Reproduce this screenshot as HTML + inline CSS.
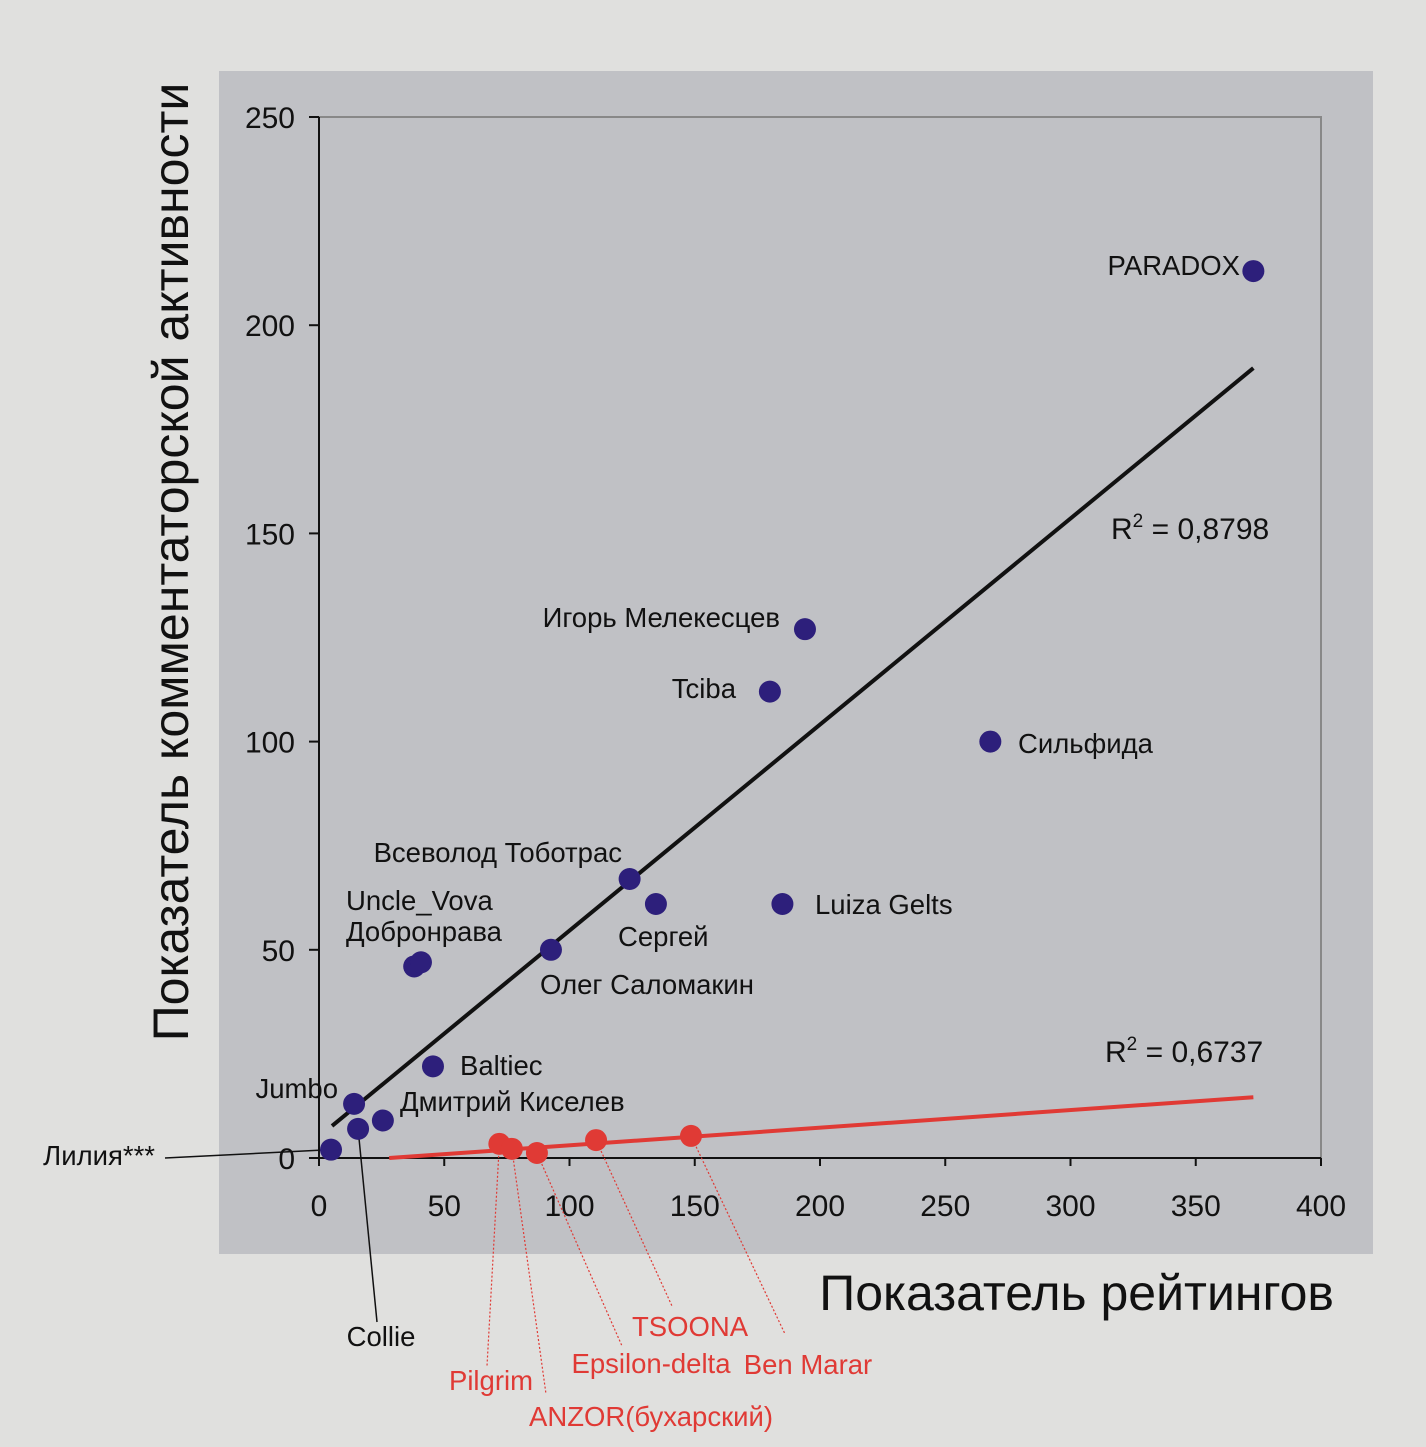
<!DOCTYPE html>
<html><head><meta charset="utf-8"><style>
html,body{margin:0;padding:0;background:#e0e0de;}
svg{display:block;font-family:"Liberation Sans",sans-serif;}
</style></head><body>
<svg id="c" width="1426" height="1447" viewBox="0 0 1426 1447">
<rect x="0" y="0" width="1426" height="1447" fill="#e0e0de"/>
<rect x="219" y="71" width="1154" height="1183" fill="#c0c1c5"/>
<text transform="translate(188,562) rotate(-90)" text-anchor="middle" font-size="50" fill="#111">Показатель комментаторской активности</text>
<text x="1334" y="1310" text-anchor="end" font-size="50" fill="#111">Показатель рейтингов</text>
<g id="g"></g>
</svg>
<script>
const xTicks=[0,50,100,150,200,250,300,350,400];
const yTicks=[0,50,100,150,200,250];
const blueNames=["PARADOX","Игорь Мелекесцев","Tciba","Сильфида","Всеволод Тоботрас","Сергей","Luiza Gelts","Олег Саломакин","Uncle_Vova","Добронрава","Baltiec","Jumbo","Дмитрий Киселев","Collie","Лилия***"];
const blueX=[373,194,180,268,124,134.5,185,92.6,38,40.7,45.5,14,25.5,15.6,4.8];
const blueY=[213,127,112,100,67,61,61,50,46,47,22,13,9,7,2];
const redNames=["Pilgrim","ANZOR(бухарский)","Epsilon-delta","TSOONA","Ben Marar"];
const redX=[72,77,87,110.6,148.5];
const redY=[3.4,2.2,1.2,4.3,5.3];
const blackTrend=[[5.2,7.7],[373,189.7]];
const redTrend=[[28,0],[373,14.6]];
const NS="http://www.w3.org/2000/svg";
const g=document.getElementById('g');
const sx=v=>319+v*(1321-319)/400;
const sy=v=>1158-v*(1158-117)/250;
function mk(t,a,txt){const e=document.createElementNS(NS,t);for(const k in a)e.setAttribute(k,a[k]);if(txt!==undefined)e.textContent=txt;g.appendChild(e);return e;}
let e;
e=mk('path',{d:`M319 117H1321V1158`,fill:'none',stroke:'#888','stroke-width':2});


e=mk('line',{x1:319,y1:117,x2:319,y2:1158,stroke:'#111','stroke-width':2});


e=mk('line',{x1:319,y1:1158,x2:1321,y2:1158,stroke:'#111','stroke-width':2});


xTicks.forEach(v=>{
 e=mk('line',{x1:sx(v),y1:1158,x2:sx(v),y2:1166,stroke:'#111','stroke-width':2});
 
 
 e=mk('text',{x:sx(v),y:1216,'text-anchor':'middle','font-size':30,fill:'#111'},v);
 
 
});
yTicks.forEach(v=>{
 e=mk('line',{x1:309,y1:sy(v),x2:319,y2:sy(v),stroke:'#111','stroke-width':2});
 
 
 e=mk('text',{x:295,y:sy(v)+11,'text-anchor':'end','font-size':30,fill:'#111'},v);
 
 
});
e=mk('line',{x1:sx(blackTrend[0][0]),y1:sy(blackTrend[0][1]),x2:sx(blackTrend[1][0]),y2:sy(blackTrend[1][1]),stroke:'#111','stroke-width':4});


e=mk('line',{x1:sx(redTrend[0][0]),y1:sy(redTrend[0][1]),x2:sx(redTrend[1][0]),y2:sy(redTrend[1][1]),stroke:'#e03a35','stroke-width':4});


e=mk('text',{x:1111,y:539,'font-size':30,fill:'#111'});e.innerHTML='R<tspan dy="-12" font-size="19">2</tspan><tspan dy="12"> = 0,8798</tspan>';


e=mk('text',{x:1105,y:1062,'font-size':30,fill:'#111'});e.innerHTML='R<tspan dy="-12" font-size="19">2</tspan><tspan dy="12"> = 0,6737</tspan>';


e=mk('line',{x1:165,y1:1158,x2:sx(blueX[14]),y2:sy(blueY[14]),stroke:'#111','stroke-width':1.5});


e=mk('line',{x1:377,y1:1322,x2:sx(blueX[13]),y2:sy(blueY[13]),stroke:'#111','stroke-width':1.5});


const bl=[[1240,275,'end'],[780,627,'end'],[736,698,'end'],[1018,753,'start'],[622,862,'end'],[618,946,'start'],[815,914,'start'],[540,994,'start'],[346,910,'start'],[346,941,'start'],[460,1075,'start'],[338,1098,'end'],[400,1111,'start'],[381,1346,'middle'],[155,1165,'end']];
blueX.forEach((v,i)=>{
 e=mk('circle',{cx:sx(v),cy:sy(blueY[i]),r:11,fill:'#2d1f7b'});
 
 
 e=mk('text',{x:bl[i][0],y:bl[i][1],'text-anchor':bl[i][2],'font-size':27.5,fill:'#111'},blueNames[i]);
 
 
});
const rl=[[491,1390,'middle'],[651,1426,'middle'],[651,1373,'middle'],[690,1336,'middle'],[808,1374,'middle']];
const re=[[487,1366],[546,1394],[622,1346],[672,1306],[785,1334]];
redX.forEach((v,i)=>{
 e=mk('line',{x1:sx(v),y1:sy(redY[i]),x2:re[i][0],y2:re[i][1],stroke:'#e03a35','stroke-width':1.2,'stroke-dasharray':'2,2'});
 
 
});
redX.forEach((v,i)=>{
 e=mk('circle',{cx:sx(v),cy:sy(redY[i]),r:11,fill:'#e03a35'});
 
 
 e=mk('text',{x:rl[i][0],y:rl[i][1],'text-anchor':rl[i][2],'font-size':27.5,fill:'#e03a35'},redNames[i]);
 
 
});
</script>
</body></html>
